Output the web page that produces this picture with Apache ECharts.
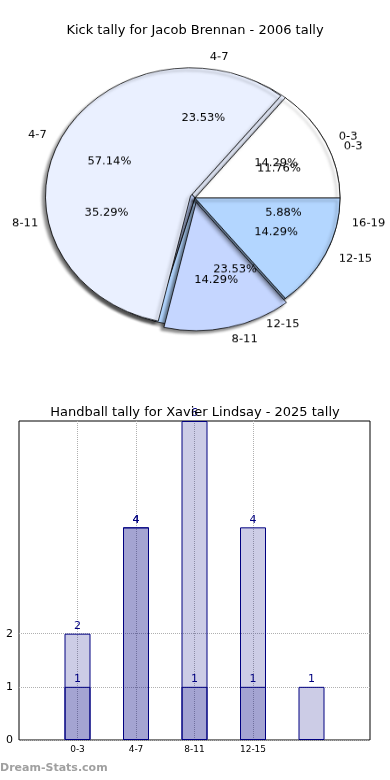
<!DOCTYPE html>
<html><head><meta charset="utf-8">
<script src="https://cdn.jsdelivr.net/npm/echarts@6/dist/echarts.min.js"></script>
<style>
html,body{margin:0;padding:0;background:#fff;}
#bar{position:absolute;left:0;top:0;width:390px;height:780px;}
#pie{position:absolute;left:0;top:0;width:390px;height:400px;transform-origin:195px 198px;transform:scaleY(0.885);}
</style></head><body>
<div id="bar"></div><div id="pie"></div>
<script>
const categories = ['0-3', '4-7', '8-11', '12-15', '16-19'];
const tallyAll = [2, 4, 6, 4, 1];
const tallySub = [1, 4, 1, 1, null];
const xTickLabels = ['0-3', '4-7', '8-11', '12-15', ''];
const yTickLabels = ['0', '1', '2'];
const pieTitle = 'Kick tally for Jacob Brennan - 2006 tally';
const barTitle = 'Handball tally for Xavier Lindsay - 2025 tally';
const sliceColors = ['#ffffff', '#eaf0ff', '#c5d6ff', '#b3d6ff', '#9fb0c0'];
const explodedSub = ['4-7', '8-11'];

const FONT = 'DejaVu Sans';
const R = 145, C = [195, 198];

function pieData(vals, explode) {
  const out = [];
  vals.forEach((v, i) => {
    if (v == null) return;
    out.push({ name: categories[i], value: v, selected: explode.includes(categories[i]),
      itemStyle: { color: sliceColors[i] } });
  });
  return out;
}
function sumOf(vals) { return vals.reduce((a, b) => a + (b || 0), 0); }

function pieGroup(vals, explode, z) {
  const data = pieData(vals, explode);
  const total = sumOf(vals);
  const base = { type: 'pie', center: C, startAngle: 0, clockwise: false, silent: true,
    selectedMode: 'multiple', selectedOffset: 5, animation: false, emphasis: { disabled: true },
    avoidLabelOverlap: false, labelLayout: { hideOverlap: false } };
  return [
    Object.assign({}, base, { z: z, radius: R, data: data,
      label: { show: true, position: 'outside', color: '#000', fontSize: 11.5, fontFamily: FONT,
        formatter: '{b}', distanceToLabelLine: 0, alignTo: 'none' },
      labelLine: { show: false, length: R * 0.1, length2: 0 },
      itemStyle: { borderColor: '#000', borderWidth: 0.8, shadowBlur: 3,
        shadowColor: 'rgba(0,0,0,0.45)', shadowOffsetX: -3, shadowOffsetY: 3 } }),
    Object.assign({}, base, { z: z + 10, radius: R * 1.2,
      data: data.map(d => ({ name: d.name, value: d.value, selected: d.selected })),
      itemStyle: { color: 'transparent', borderWidth: 0 }, labelLine: { show: false },
      label: { show: true, position: 'inside', color: '#000', fontSize: 11.5, fontFamily: FONT,
        formatter: p => (p.value / total * 100).toFixed(2) + '%' } })
  ];
}

const pieChart = echarts.init(document.getElementById('pie'));
pieChart.setOption({
  animation: false,
  textStyle: { fontFamily: FONT },
  series: [...pieGroup(tallyAll, [], 1), ...pieGroup(tallySub, explodedSub, 3)]
});

const pad = v => [null, ...v, null];
const axisCats = ['', ...categories, ''];
const barChart = echarts.init(document.getElementById('bar'));
const splitColors = [0, 1, 2, 3, 4, 5, 6].map(v => yTickLabels.includes(String(v)) ? '#b0b0b0' : 'transparent');
const barStyle = { color: 'rgba(0,0,128,0.2)', borderColor: '#000080', borderWidth: 1 };
const barLabel = { show: true, position: 'top', color: '#000080', fontSize: 11, distance: 2, fontFamily: FONT };
barChart.setOption({
  animation: false,
  textStyle: { fontFamily: FONT },
  title: [
    { text: pieTitle, left: 'center', top: 24, padding: 0,
      textStyle: { fontSize: 13, fontWeight: 'normal', color: '#000', fontFamily: FONT } },
    { text: barTitle, left: 'center', top: 406, padding: 0,
      textStyle: { fontSize: 13, fontWeight: 'normal', color: '#000', fontFamily: FONT } }
  ],
  grid: { left: 19, right: 20, top: 421, bottom: 40, show: true, borderColor: '#000', borderWidth: 1 },
  xAxis: {
    type: 'category', data: axisCats, boundaryGap: false,
    axisLine: { show: false }, axisTick: { show: false },
    axisLabel: { interval: 0, fontSize: 9, color: '#000', margin: 5,
      formatter: (v, i) => (i >= 1 && i <= xTickLabels.length) ? xTickLabels[i - 1] : '' },
    splitLine: { show: true,
      interval: (i) => i >= 1 && i <= xTickLabels.length && xTickLabels[i - 1] !== '',
      lineStyle: { type: 'dotted', color: '#b0b0b0', width: 1 } }
  },
  yAxis: {
    type: 'value', min: 0, max: 6, interval: 1,
    axisLine: { show: false }, axisTick: { show: false },
    axisLabel: { fontSize: 11, color: '#000', margin: 6,
      formatter: v => yTickLabels.includes(String(v)) ? String(v) : '' },
    splitLine: { show: true, lineStyle: { type: 'dotted', color: splitColors, width: 1 } }
  },
  series: [
    { type: 'bar', name: 'all', data: pad(tallyAll), barWidth: 26, itemStyle: barStyle, label: barLabel, z: 2 },
    { type: 'bar', name: 'sub', data: pad(tallySub), barWidth: 26, barGap: '-100%', itemStyle: barStyle, label: barLabel, z: 3 }
  ],
  graphic: [
    { type: 'text', left: 0, top: 763, style: { text: 'Dream-Stats.com', fill: '#a0a0a0',
      font: 'bold 11px "DejaVu Sans"' } }
  ]
});
</script>
</body></html>
